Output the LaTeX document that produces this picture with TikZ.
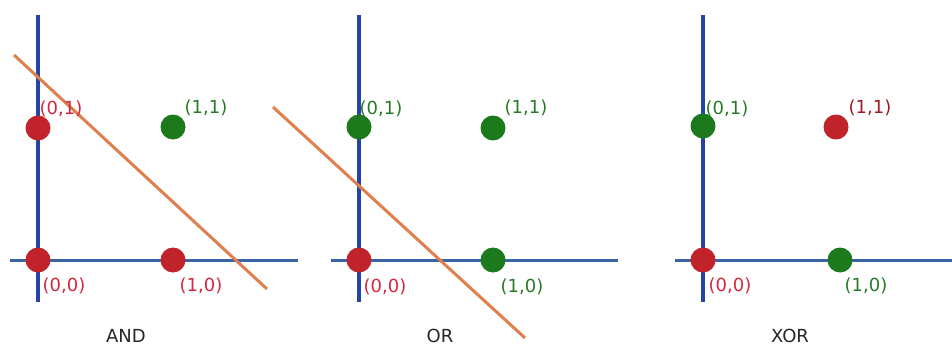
\documentclass[tikz,border=0pt]{standalone}
\usepackage{fontspec}
\setmainfont{DejaVu Sans}
\usetikzlibrary{positioning}

\definecolor{ptred}{RGB}{192,36,42}
\definecolor{ptgreen}{RGB}{28,122,28}
\definecolor{lblred}{RGB}{212,40,60}
\definecolor{lblgreen}{RGB}{40,122,40}
\definecolor{axisv}{RGB}{38,68,168}
\definecolor{axish}{RGB}{58,100,168}
\definecolor{sepline}{RGB}{222,128,78}

\begin{document}
\begin{tikzpicture}[x=1pt, y=-1pt,
  pt/.style={circle, fill=#1, inner sep=0pt, minimum size=25pt},
  lbl/.style={font=\fontsize{18}{21}\selectfont, text=#1, inner sep=0pt},
  title/.style={font=\fontsize{18}{21}\selectfont, text=black!85, inner sep=0pt},
  vaxis/.style={axisv, line width=3.2pt},
  haxis/.style={axish, line width=3pt},
  sep/.style={sepline, line width=3pt}]
  \useasboundingbox (0,0) rectangle (952,345);

  % AND
  \coordinate (andvt) at (38,15);
  \coordinate (andvb) at (38,302);
  \coordinate (andhl) at (10,260);
  \coordinate (andhr) at (298,260);
  \coordinate (andsa) at (14,55);
  \coordinate (andsb) at (267,289);
  \draw[vaxis] (andvt) -- (andvb);
  \draw[haxis] (andhl) -- (andhr);
  \draw[sep] (andsa) -- (andsb);
  \node[pt=ptred] (and00) at (38,260) {};
  \node[pt=ptred] (and10) at (173,260) {};
  \node[pt=ptred] (and01) at (38,128) {};
  \node[pt=ptgreen] (and11) at (173,127) {};
  \node[lbl=lblred] (and00l) at (64,286) {(0,0)};
  \node[lbl=lblred] (and10l) at (201,286) {(1,0)};
  \node[lbl=lblred] (and01l) at (61,109) {(0,1)};
  \node[lbl=lblgreen] (and11l) at (206,108) {(1,1)};
  \node[title] (andt) at (126,336) {AND};

  % OR
  \coordinate (orvt) at (359,15);
  \coordinate (orvb) at (359,302);
  \coordinate (orhl) at (331,260);
  \coordinate (orhr) at (618,260);
  \coordinate (orsa) at (273,107);
  \coordinate (orsb) at (525,338);
  \draw[vaxis] (orvt) -- (orvb);
  \draw[haxis] (orhl) -- (orhr);
  \draw[sep] (orsa) -- (orsb);
  \node[pt=ptred] (or00) at (359,260) {};
  \node[pt=ptgreen] (or10) at (493,260) {};
  \node[pt=ptgreen] (or01) at (359,127) {};
  \node[pt=ptgreen] (or11) at (493,128) {};
  \node[lbl=lblred] (or00l) at (385,287) {(0,0)};
  \node[lbl=lblgreen] (or10l) at (522,287) {(1,0)};
  \node[lbl=lblgreen] (or01l) at (381,109) {(0,1)};
  \node[lbl=lblgreen] (or11l) at (526,108) {(1,1)};
  \node[title] (ort) at (440,336) {OR};

  % XOR
  \coordinate (xorvt) at (703,15);
  \coordinate (xorvb) at (703,302);
  \coordinate (xorhl) at (675,260);
  \coordinate (xorhr) at (952,260);
  \draw[vaxis] (xorvt) -- (xorvb);
  \draw[haxis] (xorhl) -- (xorhr);
  \node[pt=ptred] (xor00) at (703,260) {};
  \node[pt=ptgreen] (xor10) at (840,260) {};
  \node[pt=ptgreen] (xor01) at (703,126) {};
  \node[pt=ptred] (xor11) at (836,127) {};
  \node[lbl=lblred] (xor00l) at (730,286) {(0,0)};
  \node[lbl=lblgreen] (xor10l) at (866,286) {(1,0)};
  \node[lbl=lblgreen] (xor01l) at (727,109) {(0,1)};
  \node[lbl=ptred!80!black] (xor11l) at (870,108) {(1,1)};
  \node[title] (xort) at (790,336) {XOR};
\end{tikzpicture}
\end{document}
